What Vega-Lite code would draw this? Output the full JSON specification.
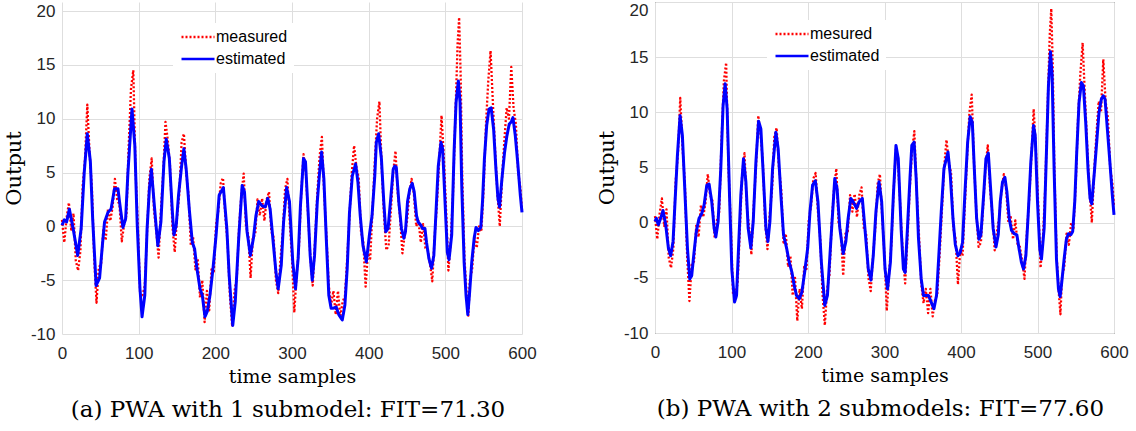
{
"$schema": "https://vega.github.io/schema/vega-lite/v6.json",
"background": "white",
"padding": {"left": 3, "top": 0, "right": 0, "bottom": 0},
"datasets": {
"meas": [
{"x":0,"y":0.6,"s":"meas"},{"x":3,"y":-1.5,"s":"meas"},{"x":6,"y":0.8,"s":"meas"},{"x":9,"y":2.2,"s":"meas"},{"x":12,"y":-0.3,"s":"meas"},{"x":15,"y":1.2,"s":"meas"},{"x":18,"y":-3.2,"s":"meas"},{"x":21,"y":-4.1,"s":"meas"},{"x":24,"y":-2.3,"s":"meas"},{"x":27,"y":3.8,"s":"meas"},{"x":30,"y":6.2,"s":"meas"},{"x":33,"y":11.3,"s":"meas"},{"x":36,"y":6.8,"s":"meas"},{"x":39,"y":3.6,"s":"meas"},{"x":42,"y":-3.0,"s":"meas"},{"x":45,"y":-7.1,"s":"meas"},{"x":48,"y":-3.8,"s":"meas"},{"x":51,"y":-3.5,"s":"meas"},{"x":54,"y":-0.2,"s":"meas"},{"x":57,"y":-1.3,"s":"meas"},{"x":60,"y":1.6,"s":"meas"},{"x":63,"y":0.5,"s":"meas"},{"x":66,"y":1.8,"s":"meas"},{"x":69,"y":4.4,"s":"meas"},{"x":72,"y":2.5,"s":"meas"},{"x":75,"y":2.0,"s":"meas"},{"x":78,"y":-1.4,"s":"meas"},{"x":81,"y":0.2,"s":"meas"},{"x":84,"y":1.0,"s":"meas"},{"x":87,"y":7.5,"s":"meas"},{"x":90,"y":12.8,"s":"meas"},{"x":93,"y":14.5,"s":"meas"},{"x":96,"y":5.0,"s":"meas"},{"x":99,"y":0.0,"s":"meas"},{"x":102,"y":-6.5,"s":"meas"},{"x":105,"y":-6.4,"s":"meas"},{"x":108,"y":-5.5,"s":"meas"},{"x":111,"y":-0.5,"s":"meas"},{"x":114,"y":4.5,"s":"meas"},{"x":117,"y":6.3,"s":"meas"},{"x":120,"y":1.5,"s":"meas"},{"x":123,"y":-0.5,"s":"meas"},{"x":126,"y":-2.9,"s":"meas"},{"x":129,"y":1.5,"s":"meas"},{"x":132,"y":5.0,"s":"meas"},{"x":135,"y":9.7,"s":"meas"},{"x":138,"y":8.0,"s":"meas"},{"x":141,"y":5.5,"s":"meas"},{"x":144,"y":0.0,"s":"meas"},{"x":147,"y":-2.4,"s":"meas"},{"x":150,"y":0.8,"s":"meas"},{"x":153,"y":3.0,"s":"meas"},{"x":156,"y":7.8,"s":"meas"},{"x":159,"y":8.6,"s":"meas"},{"x":162,"y":5.0,"s":"meas"},{"x":165,"y":3.0,"s":"meas"},{"x":168,"y":-1.8,"s":"meas"},{"x":171,"y":-1.0,"s":"meas"},{"x":174,"y":-4.0,"s":"meas"},{"x":177,"y":-3.0,"s":"meas"},{"x":180,"y":-6.6,"s":"meas"},{"x":183,"y":-5.0,"s":"meas"},{"x":186,"y":-8.9,"s":"meas"},{"x":189,"y":-6.0,"s":"meas"},{"x":192,"y":-7.8,"s":"meas"},{"x":195,"y":-4.0,"s":"meas"},{"x":198,"y":-4.2,"s":"meas"},{"x":201,"y":0.2,"s":"meas"},{"x":204,"y":1.5,"s":"meas"},{"x":207,"y":4.0,"s":"meas"},{"x":210,"y":4.5,"s":"meas"},{"x":213,"y":1.0,"s":"meas"},{"x":216,"y":-1.5,"s":"meas"},{"x":219,"y":-6.5,"s":"meas"},{"x":222,"y":-9.3,"s":"meas"},{"x":225,"y":-6.0,"s":"meas"},{"x":228,"y":-4.8,"s":"meas"},{"x":231,"y":0.0,"s":"meas"},{"x":234,"y":3.0,"s":"meas"},{"x":237,"y":4.9,"s":"meas"},{"x":240,"y":0.0,"s":"meas"},{"x":243,"y":-0.8,"s":"meas"},{"x":246,"y":-4.8,"s":"meas"},{"x":249,"y":-1.0,"s":"meas"},{"x":252,"y":-0.8,"s":"meas"},{"x":255,"y":2.5,"s":"meas"},{"x":258,"y":1.0,"s":"meas"},{"x":261,"y":2.6,"s":"meas"},{"x":264,"y":0.5,"s":"meas"},{"x":267,"y":2.5,"s":"meas"},{"x":270,"y":3.2,"s":"meas"},{"x":273,"y":-0.5,"s":"meas"},{"x":276,"y":-1.0,"s":"meas"},{"x":279,"y":-5.0,"s":"meas"},{"x":282,"y":-6.2,"s":"meas"},{"x":285,"y":-3.0,"s":"meas"},{"x":288,"y":-0.5,"s":"meas"},{"x":291,"y":3.5,"s":"meas"},{"x":294,"y":4.4,"s":"meas"},{"x":297,"y":0.5,"s":"meas"},{"x":300,"y":-3.0,"s":"meas"},{"x":303,"y":-8.0,"s":"meas"},{"x":306,"y":-4.5,"s":"meas"},{"x":309,"y":-2.0,"s":"meas"},{"x":312,"y":3.0,"s":"meas"},{"x":315,"y":6.7,"s":"meas"},{"x":318,"y":5.0,"s":"meas"},{"x":321,"y":1.0,"s":"meas"},{"x":324,"y":-3.0,"s":"meas"},{"x":327,"y":-5.5,"s":"meas"},{"x":330,"y":-1.5,"s":"meas"},{"x":333,"y":3.0,"s":"meas"},{"x":336,"y":6.5,"s":"meas"},{"x":339,"y":8.3,"s":"meas"},{"x":342,"y":3.0,"s":"meas"},{"x":345,"y":-1.0,"s":"meas"},{"x":348,"y":-5.5,"s":"meas"},{"x":351,"y":-7.3,"s":"meas"},{"x":354,"y":-6.0,"s":"meas"},{"x":357,"y":-8.2,"s":"meas"},{"x":360,"y":-6.0,"s":"meas"},{"x":363,"y":-8.5,"s":"meas"},{"x":366,"y":-7.0,"s":"meas"},{"x":369,"y":-6.5,"s":"meas"},{"x":372,"y":-3.0,"s":"meas"},{"x":375,"y":1.0,"s":"meas"},{"x":378,"y":5.0,"s":"meas"},{"x":381,"y":7.5,"s":"meas"},{"x":384,"y":5.5,"s":"meas"},{"x":387,"y":4.5,"s":"meas"},{"x":390,"y":-0.5,"s":"meas"},{"x":393,"y":-1.5,"s":"meas"},{"x":396,"y":-5.6,"s":"meas"},{"x":399,"y":-2.5,"s":"meas"},{"x":402,"y":-3.0,"s":"meas"},{"x":405,"y":1.5,"s":"meas"},{"x":408,"y":6.0,"s":"meas"},{"x":411,"y":10.0,"s":"meas"},{"x":414,"y":11.6,"s":"meas"},{"x":417,"y":5.5,"s":"meas"},{"x":420,"y":1.0,"s":"meas"},{"x":423,"y":-2.2,"s":"meas"},{"x":426,"y":-1.8,"s":"meas"},{"x":429,"y":1.5,"s":"meas"},{"x":432,"y":5.0,"s":"meas"},{"x":435,"y":7.0,"s":"meas"},{"x":438,"y":3.0,"s":"meas"},{"x":441,"y":0.8,"s":"meas"},{"x":444,"y":-2.5,"s":"meas"},{"x":447,"y":-0.8,"s":"meas"},{"x":450,"y":0.5,"s":"meas"},{"x":453,"y":3.0,"s":"meas"},{"x":456,"y":4.4,"s":"meas"},{"x":459,"y":3.0,"s":"meas"},{"x":462,"y":0.0,"s":"meas"},{"x":465,"y":0.5,"s":"meas"},{"x":468,"y":-1.5,"s":"meas"},{"x":471,"y":0.2,"s":"meas"},{"x":474,"y":-2.0,"s":"meas"},{"x":477,"y":-2.2,"s":"meas"},{"x":480,"y":-3.5,"s":"meas"},{"x":483,"y":-5.1,"s":"meas"},{"x":486,"y":-1.0,"s":"meas"},{"x":489,"y":2.0,"s":"meas"},{"x":492,"y":6.0,"s":"meas"},{"x":495,"y":10.3,"s":"meas"},{"x":498,"y":6.5,"s":"meas"},{"x":501,"y":1.5,"s":"meas"},{"x":504,"y":-4.1,"s":"meas"},{"x":507,"y":-1.5,"s":"meas"},{"x":510,"y":3.0,"s":"meas"},{"x":513,"y":10.0,"s":"meas"},{"x":516,"y":17.0,"s":"meas"},{"x":518,"y":19.4,"s":"meas"},{"x":520,"y":14.0,"s":"meas"},{"x":522,"y":5.0,"s":"meas"},{"x":525,"y":-3.0,"s":"meas"},{"x":528,"y":-6.5,"s":"meas"},{"x":530,"y":-8.3,"s":"meas"},{"x":532,"y":-5.0,"s":"meas"},{"x":535,"y":-4.0,"s":"meas"},{"x":538,"y":-1.0,"s":"meas"},{"x":541,"y":-2.0,"s":"meas"},{"x":544,"y":0.0,"s":"meas"},{"x":547,"y":-0.5,"s":"meas"},{"x":550,"y":3.5,"s":"meas"},{"x":553,"y":9.5,"s":"meas"},{"x":556,"y":13.5,"s":"meas"},{"x":559,"y":16.3,"s":"meas"},{"x":562,"y":11.5,"s":"meas"},{"x":565,"y":7.0,"s":"meas"},{"x":568,"y":3.0,"s":"meas"},{"x":571,"y":0.0,"s":"meas"},{"x":574,"y":4.5,"s":"meas"},{"x":577,"y":8.0,"s":"meas"},{"x":580,"y":11.0,"s":"meas"},{"x":583,"y":10.0,"s":"meas"},{"x":586,"y":14.8,"s":"meas"},{"x":589,"y":11.0,"s":"meas"},{"x":592,"y":9.5,"s":"meas"},{"x":595,"y":5.0,"s":"meas"},{"x":598,"y":3.5,"s":"meas"},{"x":600,"y":1.5,"s":"meas"}
],
"estA": [
{"x":0,"y":0.1,"s":"est"},{"x":3,"y":0.6,"s":"est"},{"x":6,"y":0.4,"s":"est"},{"x":9.6,"y":1.6,"s":"est"},{"x":15,"y":-0.4,"s":"est"},{"x":20.5,"y":-2.7,"s":"est"},{"x":25,"y":-0.2,"s":"est"},{"x":29,"y":5.0,"s":"est"},{"x":33,"y":8.6,"s":"est"},{"x":37,"y":6.0,"s":"est"},{"x":40,"y":0.7,"s":"est"},{"x":44.5,"y":-5.5,"s":"est"},{"x":49,"y":-4.8,"s":"est"},{"x":53,"y":-1.5,"s":"est"},{"x":55.5,"y":0.4,"s":"est"},{"x":60,"y":1.3,"s":"est"},{"x":64,"y":1.6,"s":"est"},{"x":68.5,"y":3.5,"s":"est"},{"x":73,"y":3.5,"s":"est"},{"x":75,"y":2.3,"s":"est"},{"x":79.5,"y":-0.1,"s":"est"},{"x":83,"y":0.7,"s":"est"},{"x":86,"y":5.0,"s":"est"},{"x":91.3,"y":10.9,"s":"est"},{"x":95,"y":7.5,"s":"est"},{"x":98,"y":0.4,"s":"est"},{"x":101.7,"y":-5.8,"s":"est"},{"x":104.4,"y":-8.4,"s":"est"},{"x":108,"y":-6.4,"s":"est"},{"x":111,"y":-0.2,"s":"est"},{"x":114,"y":3.5,"s":"est"},{"x":116.6,"y":5.3,"s":"est"},{"x":120,"y":2.3,"s":"est"},{"x":125,"y":-1.8,"s":"est"},{"x":129,"y":0.4,"s":"est"},{"x":133,"y":6.0,"s":"est"},{"x":136,"y":8.1,"s":"est"},{"x":140,"y":6.3,"s":"est"},{"x":144,"y":1.3,"s":"est"},{"x":146,"y":-0.8,"s":"est"},{"x":149,"y":0.1,"s":"est"},{"x":152,"y":2.9,"s":"est"},{"x":156,"y":5.6,"s":"est"},{"x":159,"y":7.2,"s":"est"},{"x":162,"y":5.3,"s":"est"},{"x":166,"y":1.6,"s":"est"},{"x":170,"y":-1.5,"s":"est"},{"x":173,"y":-2.1,"s":"est"},{"x":176,"y":-3.9,"s":"est"},{"x":180,"y":-5.8,"s":"est"},{"x":183,"y":-6.4,"s":"est"},{"x":186.5,"y":-8.4,"s":"est"},{"x":189.5,"y":-7.9,"s":"est"},{"x":193,"y":-6.4,"s":"est"},{"x":197,"y":-3.9,"s":"est"},{"x":201,"y":-0.8,"s":"est"},{"x":205,"y":2.9,"s":"est"},{"x":210.5,"y":3.6,"s":"est"},{"x":215,"y":-0.2,"s":"est"},{"x":218,"y":-4.5,"s":"est"},{"x":222.7,"y":-9.2,"s":"est"},{"x":226,"y":-7.0,"s":"est"},{"x":230.5,"y":-1.1,"s":"est"},{"x":235,"y":3.8,"s":"est"},{"x":238,"y":3.2,"s":"est"},{"x":241.4,"y":-0.5,"s":"est"},{"x":245.7,"y":-2.7,"s":"est"},{"x":249.7,"y":-1.1,"s":"est"},{"x":253,"y":1.0,"s":"est"},{"x":256.6,"y":2.3,"s":"est"},{"x":261,"y":1.9,"s":"est"},{"x":265,"y":1.8,"s":"est"},{"x":268.4,"y":2.6,"s":"est"},{"x":271.5,"y":1.6,"s":"est"},{"x":275,"y":-1.1,"s":"est"},{"x":279,"y":-4.2,"s":"est"},{"x":282,"y":-5.8,"s":"est"},{"x":286,"y":-3.6,"s":"est"},{"x":289,"y":0.4,"s":"est"},{"x":293,"y":3.6,"s":"est"},{"x":296.7,"y":2.3,"s":"est"},{"x":301,"y":-3.3,"s":"est"},{"x":304.6,"y":-5.8,"s":"est"},{"x":308,"y":-3.0,"s":"est"},{"x":311,"y":1.9,"s":"est"},{"x":315,"y":6.3,"s":"est"},{"x":317.6,"y":6.0,"s":"est"},{"x":321,"y":1.3,"s":"est"},{"x":323.7,"y":-2.7,"s":"est"},{"x":326.4,"y":-5.0,"s":"est"},{"x":329.4,"y":-2.7,"s":"est"},{"x":333,"y":2.3,"s":"est"},{"x":336,"y":5.0,"s":"est"},{"x":338.6,"y":6.9,"s":"est"},{"x":341.6,"y":4.4,"s":"est"},{"x":344.7,"y":-1.1,"s":"est"},{"x":348,"y":-6.4,"s":"est"},{"x":351,"y":-7.6,"s":"est"},{"x":354,"y":-7.6,"s":"est"},{"x":357.7,"y":-7.5,"s":"est"},{"x":361,"y":-8.2,"s":"est"},{"x":365.6,"y":-8.7,"s":"est"},{"x":369,"y":-7.3,"s":"est"},{"x":372,"y":-3.9,"s":"est"},{"x":375,"y":1.3,"s":"est"},{"x":378.7,"y":4.7,"s":"est"},{"x":383,"y":5.8,"s":"est"},{"x":386,"y":4.1,"s":"est"},{"x":389,"y":1.0,"s":"est"},{"x":392.6,"y":-1.8,"s":"est"},{"x":397,"y":-3.3,"s":"est"},{"x":401,"y":-0.8,"s":"est"},{"x":404.4,"y":1.0,"s":"est"},{"x":408,"y":4.7,"s":"est"},{"x":410,"y":7.8,"s":"est"},{"x":413,"y":8.6,"s":"est"},{"x":416.6,"y":6.3,"s":"est"},{"x":419.7,"y":2.3,"s":"est"},{"x":422.3,"y":-0.5,"s":"est"},{"x":425.3,"y":-0.2,"s":"est"},{"x":428.8,"y":2.6,"s":"est"},{"x":432,"y":5.3,"s":"est"},{"x":434,"y":5.6,"s":"est"},{"x":436,"y":5.5,"s":"est"},{"x":439.3,"y":2.3,"s":"est"},{"x":442.8,"y":-0.2,"s":"est"},{"x":445.9,"y":-1.1,"s":"est"},{"x":448,"y":-0.5,"s":"est"},{"x":450.7,"y":2.3,"s":"est"},{"x":453.7,"y":3.5,"s":"est"},{"x":456.8,"y":4.0,"s":"est"},{"x":459.4,"y":3.2,"s":"est"},{"x":462.4,"y":1.0,"s":"est"},{"x":464.6,"y":0.4,"s":"est"},{"x":468,"y":0.1,"s":"est"},{"x":470.3,"y":-0.2,"s":"est"},{"x":473.4,"y":-0.2,"s":"est"},{"x":475.5,"y":-1.5,"s":"est"},{"x":478.6,"y":-3.0,"s":"est"},{"x":482,"y":-3.9,"s":"est"},{"x":485,"y":-2.7,"s":"est"},{"x":487.8,"y":1.3,"s":"est"},{"x":490.8,"y":5.6,"s":"est"},{"x":494.3,"y":7.8,"s":"est"},{"x":496.5,"y":7.2,"s":"est"},{"x":499.6,"y":2.3,"s":"est"},{"x":502.6,"y":-2.4,"s":"est"},{"x":504.8,"y":-3.1,"s":"est"},{"x":508.3,"y":-0.8,"s":"est"},{"x":511.4,"y":6.9,"s":"est"},{"x":514,"y":11.5,"s":"est"},{"x":517,"y":13.5,"s":"est"},{"x":519.2,"y":11.5,"s":"est"},{"x":521.4,"y":3.8,"s":"est"},{"x":524.5,"y":-3.3,"s":"est"},{"x":527,"y":-6.4,"s":"est"},{"x":529.3,"y":-8.2,"s":"est"},{"x":531.4,"y":-6.4,"s":"est"},{"x":534.5,"y":-3.3,"s":"est"},{"x":537.6,"y":-1.1,"s":"est"},{"x":540,"y":-0.1,"s":"est"},{"x":543,"y":-0.4,"s":"est"},{"x":546.3,"y":-0.1,"s":"est"},{"x":548.5,"y":2.3,"s":"est"},{"x":551,"y":6.3,"s":"est"},{"x":554,"y":9.4,"s":"est"},{"x":557,"y":10.9,"s":"est"},{"x":559.8,"y":11.0,"s":"est"},{"x":563,"y":9.0,"s":"est"},{"x":566,"y":5.3,"s":"est"},{"x":568.6,"y":2.6,"s":"est"},{"x":570.7,"y":1.8,"s":"est"},{"x":573.8,"y":4.4,"s":"est"},{"x":577.3,"y":6.9,"s":"est"},{"x":580.3,"y":8.4,"s":"est"},{"x":583.4,"y":9.5,"s":"est"},{"x":586,"y":9.7,"s":"est"},{"x":588.2,"y":10.1,"s":"est"},{"x":591.3,"y":8.4,"s":"est"},{"x":594.3,"y":6.0,"s":"est"},{"x":597.8,"y":2.9,"s":"est"},{"x":600,"y":1.3,"s":"est"}
],
"estB": [
{"x":0,"y":0.1,"s":"est"},{"x":1.7,"y":0.4,"s":"est"},{"x":4.4,"y":-0.2,"s":"est"},{"x":7.4,"y":0.4,"s":"est"},{"x":10.5,"y":1.1,"s":"est"},{"x":14,"y":-0.2,"s":"est"},{"x":17.5,"y":-2.3,"s":"est"},{"x":20.5,"y":-3.0,"s":"est"},{"x":23.6,"y":-1.7,"s":"est"},{"x":26.2,"y":1.9,"s":"est"},{"x":29.3,"y":6.1,"s":"est"},{"x":32.8,"y":9.7,"s":"est"},{"x":35.8,"y":7.9,"s":"est"},{"x":38.9,"y":3.1,"s":"est"},{"x":42.4,"y":-2.3,"s":"est"},{"x":45.4,"y":-5.1,"s":"est"},{"x":48,"y":-4.8,"s":"est"},{"x":51,"y":-2.7,"s":"est"},{"x":54,"y":-0.8,"s":"est"},{"x":57.6,"y":0.4,"s":"est"},{"x":61,"y":0.8,"s":"est"},{"x":64.2,"y":1.6,"s":"est"},{"x":67.7,"y":3.4,"s":"est"},{"x":70.7,"y":3.5,"s":"est"},{"x":74.2,"y":1.9,"s":"est"},{"x":77.3,"y":-0.5,"s":"est"},{"x":79.5,"y":-1.3,"s":"est"},{"x":82.5,"y":0.1,"s":"est"},{"x":86,"y":4.9,"s":"est"},{"x":89,"y":10.6,"s":"est"},{"x":91.7,"y":12.6,"s":"est"},{"x":94.3,"y":10.3,"s":"est"},{"x":97.4,"y":2.5,"s":"est"},{"x":100.4,"y":-4.2,"s":"est"},{"x":104,"y":-7.2,"s":"est"},{"x":106.6,"y":-6.6,"s":"est"},{"x":109.2,"y":-2.3,"s":"est"},{"x":112.2,"y":2.5,"s":"est"},{"x":115.7,"y":5.8,"s":"est"},{"x":118.8,"y":3.7,"s":"est"},{"x":121.8,"y":-0.5,"s":"est"},{"x":125.3,"y":-2.3,"s":"est"},{"x":128.4,"y":0.1,"s":"est"},{"x":131.9,"y":5.5,"s":"est"},{"x":135.4,"y":9.2,"s":"est"},{"x":138.4,"y":8.5,"s":"est"},{"x":142,"y":3.7,"s":"est"},{"x":145,"y":-0.5,"s":"est"},{"x":147.6,"y":-1.7,"s":"est"},{"x":150.2,"y":0.1,"s":"est"},{"x":153.7,"y":4.9,"s":"est"},{"x":158,"y":8.2,"s":"est"},{"x":161,"y":6.7,"s":"est"},{"x":164.6,"y":2.5,"s":"est"},{"x":168,"y":-1.1,"s":"est"},{"x":172,"y":-2.3,"s":"est"},{"x":175.5,"y":-3.6,"s":"est"},{"x":179,"y":-4.5,"s":"est"},{"x":182,"y":-5.7,"s":"est"},{"x":185,"y":-6.6,"s":"est"},{"x":188.6,"y":-6.9,"s":"est"},{"x":192,"y":-6.3,"s":"est"},{"x":195.6,"y":-4.5,"s":"est"},{"x":199.6,"y":-2.3,"s":"est"},{"x":202.6,"y":1.0,"s":"est"},{"x":206,"y":3.4,"s":"est"},{"x":209.6,"y":3.8,"s":"est"},{"x":213,"y":1.9,"s":"est"},{"x":217.5,"y":-3.6,"s":"est"},{"x":221.9,"y":-7.5,"s":"est"},{"x":225.4,"y":-6.6,"s":"est"},{"x":229.8,"y":-1.7,"s":"est"},{"x":235,"y":4.0,"s":"est"},{"x":238,"y":3.1,"s":"est"},{"x":241.6,"y":-0.5,"s":"est"},{"x":246,"y":-2.8,"s":"est"},{"x":249.5,"y":-1.7,"s":"est"},{"x":252.5,"y":0.4,"s":"est"},{"x":256,"y":2.2,"s":"est"},{"x":259,"y":1.9,"s":"est"},{"x":263.5,"y":1.3,"s":"est"},{"x":267,"y":1.9,"s":"est"},{"x":271,"y":2.2,"s":"est"},{"x":274.4,"y":-0.5,"s":"est"},{"x":278.8,"y":-4.2,"s":"est"},{"x":282.3,"y":-5.2,"s":"est"},{"x":285.3,"y":-3.0,"s":"est"},{"x":288.8,"y":1.0,"s":"est"},{"x":292.8,"y":3.7,"s":"est"},{"x":296.3,"y":1.9,"s":"est"},{"x":300.7,"y":-4.2,"s":"est"},{"x":304,"y":-6.0,"s":"est"},{"x":307.7,"y":-3.6,"s":"est"},{"x":311.6,"y":2.5,"s":"est"},{"x":315,"y":7.0,"s":"est"},{"x":318,"y":5.8,"s":"est"},{"x":321.7,"y":-0.5,"s":"est"},{"x":324.7,"y":-4.2,"s":"est"},{"x":327,"y":-4.5,"s":"est"},{"x":330,"y":-0.5,"s":"est"},{"x":333.5,"y":4.3,"s":"est"},{"x":335.7,"y":7.0,"s":"est"},{"x":338.7,"y":7.3,"s":"est"},{"x":341.4,"y":4.0,"s":"est"},{"x":344.4,"y":-1.4,"s":"est"},{"x":348,"y":-5.1,"s":"est"},{"x":351,"y":-6.6,"s":"est"},{"x":354,"y":-6.6,"s":"est"},{"x":357.5,"y":-6.6,"s":"est"},{"x":361,"y":-7.2,"s":"est"},{"x":364.6,"y":-7.8,"s":"est"},{"x":368,"y":-6.6,"s":"est"},{"x":371,"y":-3.0,"s":"est"},{"x":374.2,"y":1.0,"s":"est"},{"x":377.7,"y":4.9,"s":"est"},{"x":383,"y":6.4,"s":"est"},{"x":386,"y":4.3,"s":"est"},{"x":389.5,"y":0.4,"s":"est"},{"x":392.6,"y":-2.0,"s":"est"},{"x":396,"y":-3.0,"s":"est"},{"x":399,"y":-2.7,"s":"est"},{"x":402,"y":-1.8,"s":"est"},{"x":405,"y":2.5,"s":"est"},{"x":408.7,"y":7.3,"s":"est"},{"x":412,"y":9.6,"s":"est"},{"x":414.8,"y":9.1,"s":"est"},{"x":417.4,"y":4.9,"s":"est"},{"x":420.4,"y":0.4,"s":"est"},{"x":423.5,"y":-1.5,"s":"est"},{"x":426,"y":-1.1,"s":"est"},{"x":429.6,"y":2.5,"s":"est"},{"x":432.6,"y":5.8,"s":"est"},{"x":435.7,"y":6.3,"s":"est"},{"x":438.7,"y":3.1,"s":"est"},{"x":442,"y":-0.5,"s":"est"},{"x":445.7,"y":-2.2,"s":"est"},{"x":448.7,"y":-1.1,"s":"est"},{"x":451.3,"y":1.9,"s":"est"},{"x":454.3,"y":3.7,"s":"est"},{"x":457.4,"y":4.1,"s":"est"},{"x":460,"y":2.8,"s":"est"},{"x":463,"y":0.4,"s":"est"},{"x":466,"y":-0.7,"s":"est"},{"x":469.6,"y":-1.0,"s":"est"},{"x":473,"y":-1.1,"s":"est"},{"x":476,"y":-2.4,"s":"est"},{"x":479,"y":-3.6,"s":"est"},{"x":481.7,"y":-4.2,"s":"est"},{"x":484.8,"y":-3.0,"s":"est"},{"x":487.8,"y":0.7,"s":"est"},{"x":491.3,"y":5.5,"s":"est"},{"x":494.8,"y":8.8,"s":"est"},{"x":497,"y":7.9,"s":"est"},{"x":500,"y":1.9,"s":"est"},{"x":503,"y":-2.4,"s":"est"},{"x":505.2,"y":-3.3,"s":"est"},{"x":508.7,"y":-0.5,"s":"est"},{"x":511.7,"y":6.4,"s":"est"},{"x":514.3,"y":12.4,"s":"est"},{"x":517,"y":15.5,"s":"est"},{"x":519.1,"y":13.4,"s":"est"},{"x":521.7,"y":4.9,"s":"est"},{"x":524.8,"y":-3.3,"s":"est"},{"x":527.4,"y":-6.0,"s":"est"},{"x":529.6,"y":-6.7,"s":"est"},{"x":531.7,"y":-5.4,"s":"est"},{"x":534.8,"y":-3.3,"s":"est"},{"x":537.8,"y":-1.5,"s":"est"},{"x":540.4,"y":-1.0,"s":"est"},{"x":543.5,"y":-1.1,"s":"est"},{"x":546,"y":-0.8,"s":"est"},{"x":548.7,"y":1.9,"s":"est"},{"x":551.3,"y":6.4,"s":"est"},{"x":554.3,"y":10.9,"s":"est"},{"x":557.4,"y":12.7,"s":"est"},{"x":560,"y":12.4,"s":"est"},{"x":563,"y":9.1,"s":"est"},{"x":566,"y":4.9,"s":"est"},{"x":568.7,"y":2.2,"s":"est"},{"x":570.9,"y":1.7,"s":"est"},{"x":574,"y":4.3,"s":"est"},{"x":577.4,"y":7.3,"s":"est"},{"x":580.4,"y":10.0,"s":"est"},{"x":583.5,"y":11.2,"s":"est"},{"x":586,"y":11.5,"s":"est"},{"x":588.3,"y":11.2,"s":"est"},{"x":591.3,"y":8.5,"s":"est"},{"x":594.3,"y":5.8,"s":"est"},{"x":597.8,"y":2.5,"s":"est"},{"x":600,"y":0.7,"s":"est"}
]
},
"spacing": 58,
"resolve": {"scale": {"x": "independent", "y": "independent", "color": "independent", "strokeDash": "independent"}, "legend": {"color": "independent", "strokeDash": "independent"}},
"hconcat": [
{
"width": 460, "height": 332,
"view": {"stroke": null},
"title": {"text": "(a) PWA with 1 submodel: FIT=71.30", "dx": -4},
"encoding": {
"x": {"field": "x", "type": "quantitative", "scale": {"domain": [0, 600], "nice": false, "zero": false}, "axis": {"values": [0,100,200,300,400,500,600], "title": "time samples"}},
"y": {"field": "y", "type": "quantitative", "scale": {"domain": [-10, 20.836], "nice": false, "zero": false}, "axis": {"values": [-10,-5,0,5,10,15,20], "title": "Output", "labelExpr": "'' + datum.value"}}
},
"layer": [
{"data": {"name": "meas"}, "mark": {"type": "line", "strokeWidth": 2.3},
 "encoding": {
 "color": {"field": "s", "type": "nominal", "scale": {"domain": ["meas", "est"], "range": ["#ff0000", "#0000ff"]}, "legend": {"title": null, "orient": "none", "legendX": 111, "legendY": 21, "labelExpr": "datum.label == 'meas' ? 'measured' : 'estimated'"}},
 "strokeDash": {"field": "s", "type": "nominal", "scale": {"domain": ["meas", "est"], "range": [[2, 2], [1, 0]]}, "legend": {"title": null, "orient": "none", "legendX": 111, "legendY": 21, "labelExpr": "datum.label == 'meas' ? 'measured' : 'estimated'"}}
 }},
{"data": {"name": "estA"}, "mark": {"type": "line", "strokeWidth": 3},
 "encoding": {
 "color": {"field": "s", "type": "nominal"},
 "strokeDash": {"field": "s", "type": "nominal"}
 }},
{"data": {"values": [{}]}, "mark": {"type": "rect", "fill": "white", "stroke": null},
 "encoding": {"x": {"datum": -3}, "x2": {"datum": 603}, "y": {"datum": 20}, "y2": {"datum": 20.9}}},
{"data": {"values": [{}]}, "mark": {"type": "rule", "color": "#262626", "strokeWidth": 1},
 "encoding": {"x": {"datum": 0}, "x2": {"datum": 600}, "y": {"datum": 20}}},
{"data": {"values": [{}]}, "mark": {"type": "rule", "color": "#262626", "strokeWidth": 1},
 "encoding": {"x": {"datum": 0}, "x2": {"datum": 600}, "y": {"datum": -10}}},
{"data": {"values": [{}]}, "mark": {"type": "rule", "color": "#262626", "strokeWidth": 1},
 "encoding": {"x": {"datum": 0}, "y": {"datum": -10}, "y2": {"datum": 20}}},
{"data": {"values": [{}]}, "mark": {"type": "rule", "color": "#262626", "strokeWidth": 1},
 "encoding": {"x": {"datum": 600}, "y": {"datum": -10}, "y2": {"datum": 20}}}
]
},
{
"width": 459, "height": 331,
"title": {"text": "(b) PWA with 2 submodels: FIT=77.60", "dx": -4},
"encoding": {
"x": {"field": "x", "type": "quantitative", "scale": {"domain": [0, 600], "nice": false, "zero": false}, "axis": {"values": [0,100,200,300,400,500,600], "title": "time samples"}},
"y": {"field": "y", "type": "quantitative", "scale": {"domain": [-10, 20], "nice": false, "zero": false}, "axis": {"values": [-10,-5,0,5,10,15,20], "title": "Output", "labelExpr": "'' + datum.value", "labelBaseline": {"condition": {"test": "datum.value == 20", "value": "top"}, "value": "middle"}}},
"color": {"field": "s", "type": "nominal", "scale": {"domain": ["meas", "est"], "range": ["#ff0000", "#0000ff"]}, "legend": {"title": null, "orient": "none", "legendX": 112, "legendY": 18, "labelExpr": "datum.label == 'meas' ? 'mesured' : 'estimated'"}},
"strokeDash": {"field": "s", "type": "nominal", "scale": {"domain": ["meas", "est"], "range": [[2, 2], [1, 0]]}, "legend": {"title": null, "orient": "none", "legendX": 112, "legendY": 18, "labelExpr": "datum.label == 'meas' ? 'mesured' : 'estimated'"}}
},
"layer": [
{"data": {"name": "meas"}, "mark": {"type": "line", "strokeWidth": 2.3}},
{"data": {"name": "estB"}, "mark": {"type": "line", "strokeWidth": 3}}
]
}
],
"config": {
"view": {"stroke": "#262626", "strokeWidth": 1},
"axis": {"labelFont": "Liberation Sans", "labelFontSize": 17, "labelColor": "#262626", "titleFont": "DejaVu Serif", "titleFontWeight": "normal", "titleColor": "#000000", "grid": true, "gridColor": "#dedede", "gridWidth": 1, "domain": false, "ticks": false, "labelOverlap": false},
"axisX": {"labelPadding": 11, "titleFontSize": 19, "titlePadding": 6, "labelFlush": false},
"axisY": {"labelPadding": 7, "titleFontSize": 21, "titlePadding": 6},
"legend": {"fillColor": "white", "padding": 6, "labelFont": "Liberation Sans", "labelFontSize": 16, "labelColor": "#000000", "symbolType": "M-1,0H5", "symbolSize": 121, "symbolStrokeWidth": 2.5, "labelOffset": 21, "rowPadding": 6},
"title": {"orient": "bottom", "font": "DejaVu Serif", "fontSize": 23, "fontWeight": "normal", "color": "#000000", "anchor": "middle", "offset": 13},
"line": {"strokeJoin": "round"}
}
}
